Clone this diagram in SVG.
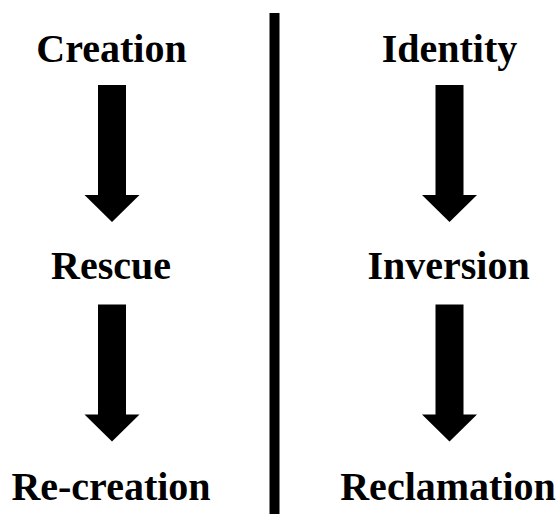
<svg xmlns="http://www.w3.org/2000/svg" width="559" height="514" viewBox="0 0 559 514">
<style>
.lbl{font-family:"Liberation Serif","Times New Roman",serif;font-weight:bold;font-size:40px;fill:#000;text-anchor:middle}
.arr{fill:#000}
</style>
<defs>
<path id="arrow" d="M-14 0 H14 V110 H27.5 L0 137 L-27.5 110 H-14 Z"/>
</defs>
<rect width="559" height="514" fill="#fff"/>
<rect id="divider" x="269.5" y="13" width="10" height="501" fill="#000"/>
<g id="n-creation"><text class="lbl" x="111.5" y="61.5">Creation</text></g>
<g id="n-rescue"><text class="lbl" x="111" y="278.5">Rescue</text></g>
<g id="n-recreation"><text class="lbl" x="111" y="500">Re-creation</text></g>
<g id="n-identity"><text class="lbl" x="449.5" y="61.5">Identity</text></g>
<g id="n-inversion"><text class="lbl" x="448.5" y="278.5">Inversion</text></g>
<g id="n-reclamation"><text class="lbl" x="448" y="500">Reclamation</text></g>
<g id="connectors" class="arr">
<use href="#arrow" x="112" y="85"/>
<use href="#arrow" x="112" y="304.5"/>
<use href="#arrow" x="449.5" y="85"/>
<use href="#arrow" x="449.5" y="304.5"/>
</g>
</svg>
